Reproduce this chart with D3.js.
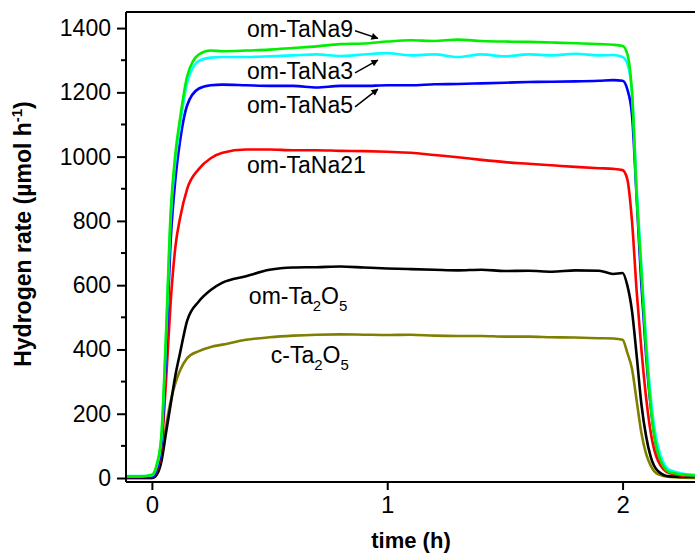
<!DOCTYPE html>
<html>
<head>
<meta charset=utf-8 />
<title>Hydrogen rate</title>
<script src="https://d3js.org/d3.v7.min.js"></script>
<style>
  body { margin: 0; background: #fff; }
  text { font-family: Arial, "Liberation Sans", sans-serif; }
</style>
</head>
<body>
<svg id="chart" width="695" height="554"></svg>
<script>
// time grid (h)
const times = [-0.11, -0.05, 0, 0.02, 0.04, 0.06, 0.08, 0.10, 0.12, 0.15,
  0.20, 0.25, 0.30, 0.40, 0.50, 0.60, 0.70, 0.80, 0.90, 1.00,
  1.10, 1.20, 1.30, 1.40, 1.50, 1.60, 1.70, 1.80, 1.90, 1.96,
  2.00, 2.02, 2.04, 2.06, 2.08, 2.10, 2.12, 2.15, 2.20, 2.30, 2.40];

// hydrogen rate (umol/h)
const omTaNa9 = [5, 5, 10, 40, 130, 450, 830, 1010, 1120, 1250,
  1318, 1330, 1328, 1330, 1333, 1338, 1343, 1350, 1352, 1358,
  1362, 1360, 1364, 1360, 1358, 1357, 1355, 1353, 1350, 1348,
  1344, 1320, 1200, 880, 640, 400, 220, 80, 18, 8, 8];
const omTaNa3 = [6, 6, 8, 35, 120, 430, 810, 990, 1100, 1230,
  1298, 1308, 1310, 1310, 1312, 1315, 1318, 1313, 1318, 1322,
  1315, 1318, 1310, 1318, 1312, 1318, 1315, 1320, 1315, 1316,
  1310, 1290, 1200, 900, 660, 430, 250, 100, 25, 10, 8];
const omTaNa5 = [3, 3, 3, 25, 100, 380, 740, 930, 1050, 1160,
  1212, 1222, 1224, 1222, 1220, 1220, 1215, 1220, 1220, 1222,
  1222, 1225, 1226, 1228, 1230, 1232, 1233, 1234, 1236, 1238,
  1236, 1210, 1130, 870, 600, 380, 220, 80, 20, 8, 8];
const omTaNa21 = [3, 3, 3, 20, 90, 300, 550, 720, 810, 900,
  962, 995, 1012, 1022, 1022, 1020, 1020, 1018, 1017, 1015,
  1012, 1005, 998, 990, 983, 978, 973, 968, 964, 962,
  958, 930, 800, 580, 400, 250, 140, 55, 15, 5, 5];
const omTa2O5 = [0, 0, 0, 10, 50, 140, 230, 320, 390, 490,
  550, 585, 608, 628, 648, 655, 656, 658, 655, 652,
  650, 648, 646, 648, 644, 645, 642, 646, 645, 635,
  638, 600, 520, 380, 230, 130, 65, 22, 5, 3, 3];
const cTa2O5 = [0, 0, 0, 10, 60, 160, 240, 295, 335, 373,
  395, 408, 415, 430, 438, 443, 446, 447, 446, 445,
  446, 443, 442, 442, 440, 440, 438, 437, 435, 434,
  430, 390, 340, 240, 140, 75, 38, 12, 3, 0, 0];

const yTicks = [0, 200, 400, 600, 800, 1000, 1200, 1400];
const xTicks = [0, 1, 2];

const series = [
  { values: cTa2O5, color: "#808000" },
  { values: omTa2O5, color: "#000000" },
  { values: omTaNa21, color: "#ff0000" },
  { values: omTaNa5, color: "#0000ff" },
  { values: omTaNa3, color: "#00ffff" },
  { values: omTaNa9, color: "#00ee00" }
];

// label text, position (t, rate) of the text start, arrow end (t, rate)
const labels = [
  { text: "om-TaNa9", t: 0.404, v: 1373, arrow: [0.96, 1368] },
  { text: "om-TaNa3", t: 0.404, v: 1242, arrow: [0.96, 1300] },
  { text: "om-TaNa5", t: 0.404, v: 1136, arrow: [0.96, 1210] },
  { text: "om-TaNa21", t: 0.404, v: 950, arrow: null },
  { text: "om-Ta", sub1: "2", mid: "O", sub2: "5", t: 0.412, v: 540, arrow: null },
  { text: "c-Ta", sub1: "2", mid: "O", sub2: "5", t: 0.505, v: 358, arrow: null }
];

const svg = d3.select("#chart");
const margin = { left: 126, top: 12, right: 720, bottom: 482 };

const x = d3.scaleLinear().domain([-0.11, 2.414]).range([margin.left, margin.right]);
const y = d3.scaleLinear().domain([-12.4, 1450]).range([margin.bottom, margin.top]);

svg.append("defs").append("clipPath").attr("id", "plot")
  .append("rect")
  .attr("x", margin.left).attr("y", margin.top)
  .attr("width", margin.right - margin.left).attr("height", margin.bottom - margin.top);

svg.append("defs").append("marker")
  .attr("id", "head")
  .attr("viewBox", "0 0 10 10")
  .attr("refX", 9).attr("refY", 5)
  .attr("markerWidth", 10).attr("markerHeight", 7)
  .attr("markerUnits", "userSpaceOnUse")
  .attr("orient", "auto")
  .append("path").attr("d", "M0,0 L10,5 L0,10 z").attr("fill", "#000");

// curves
const line = d3.line()
  .x((d, i) => x(times[i]))
  .y(d => y(d))
  .curve(d3.curveMonotoneX);

svg.append("g").attr("clip-path", "url(#plot)")
  .selectAll("path")
  .data(series)
  .enter()
  .append("path")
    .attr("d", d => line(d.values))
    .attr("fill", "none")
    .attr("stroke", d => d.color)
    .attr("stroke-width", 2.6)
    .attr("stroke-linejoin", "round");

// frame: top line, left axis, bottom axis
svg.append("line")
  .attr("x1", margin.left).attr("x2", margin.right)
  .attr("y1", margin.top).attr("y2", margin.top)
  .attr("stroke", "#000").attr("stroke-width", 2);

const yAxis = svg.append("g")
  .attr("transform", `translate(${margin.left},0)`)
  .call(d3.axisLeft(y).tickValues(yTicks).tickFormat(d3.format("d"))
    .tickSize(9).tickPadding(6).tickSizeOuter(0));
yAxis.select(".domain").attr("stroke-width", 2)
  .attr("d", `M0,${margin.top}V${margin.bottom}`);
yAxis.selectAll(".tick line").attr("stroke-width", 2);
yAxis.selectAll(".tick text").style("font-size", "23px").attr("fill", "#000");

// minor y ticks
svg.append("g").selectAll("line")
  .data(d3.range(100, 1450, 200))
  .enter()
  .append("line")
    .attr("x1", margin.left - 5).attr("x2", margin.left)
    .attr("y1", d => y(d)).attr("y2", d => y(d))
    .attr("stroke", "#000").attr("stroke-width", 2);

const xAxis = svg.append("g")
  .attr("transform", `translate(0,${margin.bottom})`)
  .call(d3.axisBottom(x).tickValues(xTicks).tickFormat(d3.format("d"))
    .tickSize(8).tickPadding(6).tickSizeOuter(0));
xAxis.select(".domain").attr("stroke-width", 2)
  .attr("d", `M${margin.left},0H${margin.right}`);
xAxis.selectAll(".tick line").attr("stroke-width", 2);
xAxis.selectAll(".tick text").style("font-size", "24px").attr("fill", "#000");

// axis titles
svg.append("text")
  .attr("x", 411).attr("y", 548)
  .attr("text-anchor", "middle")
  .style("font-size", "22px").style("font-weight", "bold")
  .text("time (h)");

const yt = svg.append("text")
  .attr("transform", "translate(31,234) rotate(-90)")
  .attr("text-anchor", "middle")
  .style("font-size", "23px").style("font-weight", "bold");
yt.append("tspan").text("Hydrogen rate (\u00b5mol h");
yt.append("tspan").attr("dy", -9).style("font-size", "15px").text("-1");
yt.append("tspan").attr("dy", 9).text(")");

// series labels
labels.forEach(l => {
  const t = svg.append("text")
    .attr("x", x(l.t)).attr("y", y(l.v))
    .style("font-size", "23px");
  t.append("tspan").text(l.text);
  if (l.sub1) {
    t.append("tspan").attr("dy", 7).style("font-size", "15px").text(l.sub1);
    t.append("tspan").attr("dy", -7).text(l.mid);
    t.append("tspan").attr("dy", 7).style("font-size", "15px").text(l.sub2);
  }
  if (l.arrow) {
    const bb = t.node().getBBox();
    svg.append("line")
      .attr("x1", bb.x + bb.width + 2).attr("y1", bb.y + bb.height / 2 + 2)
      .attr("x2", x(l.arrow[0])).attr("y2", y(l.arrow[1]))
      .attr("stroke", "#000").attr("stroke-width", 1.5)
      .attr("marker-end", "url(#head)");
  }
});
</script>
</body>
</html>
